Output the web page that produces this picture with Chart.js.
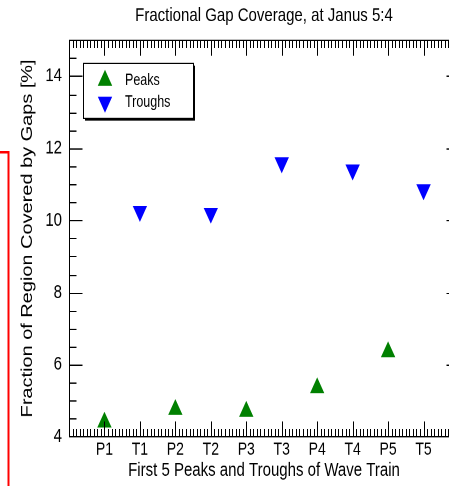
<!DOCTYPE html>
<html>
<head>
<meta charset="utf-8">
<script src="https://cdn.jsdelivr.net/npm/chart.js@4/dist/chart.umd.min.js"></script>
<style>
  html, body { margin: 0; background: #fff; }
  #wrap { width: 449px; height: 486px; overflow: hidden; position: relative; }
  /* the reference image is stretched vertically, so stretch the canvas the same way */
  #chart { position: absolute; left: 0; top: 0; transform: scaleY(1.279); transform-origin: 0 0; }
</style>
</head>
<body>
<div id="wrap"><canvas id="chart" width="480" height="380"></canvas></div>
<script>
const categories = ['P1', 'T1', 'P2', 'T2', 'P3', 'T3', 'P4', 'T4', 'P5', 'T5'];
const peakNames = ['P1', 'P2', 'P3', 'P4', 'P5'];
const peakValues = [4.4, 4.75, 4.7, 5.35, 6.35];
const troughNames = ['T1', 'T2', 'T3', 'T4', 'T5'];
const troughValues = [10.25, 10.2, 11.6, 11.4, 10.85];
const yTickLabels = [4, 6, 8, 10, 12, 14];

const FONT = "'Liberation Sans', Arial, Helvetica, sans-serif";
Chart.defaults.font.family = FONT;
Chart.defaults.color = '#000';

// place each name at its slot on the x axis (P1 = 1 ... T5 = 10)
const toPoints = (names, values) => names.map((n, i) => ({ x: categories.indexOf(n) + 1, y: values[i] }));

const line = (ctx, x1, y1, x2, y2) => {
    ctx.beginPath();
    ctx.moveTo(x1, y1);
    ctx.lineTo(x2, y2);
    ctx.stroke();
}

// box, inward ticks, legend box and the red mark at the left
const framePlugin = {
    id: 'frame',
    afterDraw(chart) {
        const ctx = chart.ctx;
        const { left, right, top, bottom } = chart.chartArea;
        const xs = chart.scales.x;
        const ys = chart.scales.y;
        ctx.save();
        ctx.strokeStyle = '#000';
        ctx.lineWidth = 1;
        const L = Math.round(left) + 0.5, R = Math.round(right) + 0.5;
        const T = Math.round(top) + 0.5, B = Math.round(bottom) + 0.5;
        ctx.strokeRect(L, T, R - L, B - T);

        for (let v = 4; v <= 15; v += 0.5) {
            const py = Math.round(ys.getPixelForValue(v)) + 0.5;
            const len = v % 2 === 0 ? 13 : 7;
            line(ctx, L, py, L + len, py);
            line(ctx, R, py, R - len, py);
        }
        for (let i = 0; i <= 110; i++) {
            const px = Math.round(xs.getPixelForValue(i / 10)) + 0.5;
            const len = i % 10 === 0 ? 12 : 6;
            line(ctx, px, T, px, T + len);
            line(ctx, px, B, px, B - len);
        }

        // legend
        const lx = left + 14, ly = top + 18, lw = 110, lh = 43;
        ctx.fillStyle = '#000';
        ctx.fillRect(lx + 2, ly + 2, lw, lh);
        ctx.fillStyle = '#fff';
        ctx.fillRect(lx, ly, lw, lh);
        ctx.strokeRect(Math.round(lx) + 0.5, Math.round(ly) + 0.5, lw, lh);
        const rows = [ly + 13.5, ly + 30.5];
        chart.data.datasets.forEach((ds, i) => {
            ctx.fillStyle = ds.backgroundColor;
            ctx.strokeStyle = ds.borderColor;
            Chart.helpers.drawPoint(ctx, {
                pointStyle: ds.pointStyle,
                rotation: ds.rotation,
                radius: ds.pointRadius,
                borderWidth: 1
            }, lx + 22, rows[i]);
            ctx.fillStyle = '#000';
            ctx.font = '12.5px ' + FONT;
            ctx.textBaseline = 'middle';
            ctx.textAlign = 'left';
            ctx.fillText(ds.label, lx + 42, rows[i]);
        });

        // red bracket on the far left
        ctx.strokeStyle = '#ff0000';
        ctx.lineWidth = 2;
        ctx.beginPath();
        ctx.moveTo(0, 119);
        ctx.lineTo(8.5, 119);
        ctx.lineTo(8.5, 380);
        ctx.stroke();
        ctx.restore();
    }
}

const config = {
    type: 'scatter',
    data: {
        datasets: [{
            label: 'Peaks',
            data: toPoints(peakNames, peakValues),
            pointStyle: 'triangle',
            rotation: 0,
            pointRadius: 7.3,
            backgroundColor: '#008000',
            borderColor: '#008000',
            borderWidth: 1
        }, {
            label: 'Troughs',
            data: toPoints(troughNames, troughValues),
            pointStyle: 'triangle',
            rotation: 180,
            pointRadius: 7.3,
            backgroundColor: '#0000ff',
            borderColor: '#0000ff',
            borderWidth: 1
        }]
    },
    options: {
        responsive: false,
        devicePixelRatio: 2,
        animation: false,
        layout: { padding: { right: 21 } },
        plugins: {
            legend: { display: false },
            tooltip: { enabled: false },
            title: {
                display: true,
                text: 'Fractional Gap Coverage, at Janus 5:4',
                fullSize: false,
                color: '#000',
                font: { size: 15, weight: 'normal' },
                padding: { top: 3.5, bottom: 9.8 }
            }
        },
        scales: {
            x: {
                type: 'linear',
                min: 0,
                max: 11,
                grid: { display: false, drawTicks: false },
                border: { display: false },
                ticks: {
                    stepSize: 1,
                    autoSkip: false,
                    maxRotation: 0,
                    padding: 2,
                    font: { size: 14 },
                    callback: (v) => categories[v - 1] || ''
                },
                title: {
                    display: true,
                    text: 'First 5 Peaks and Troughs of Wave Train',
                    font: { size: 15 },
                    padding: 3
                },
                afterFit: (s) => { s.height = 38.6; }
            },
            y: {
                type: 'linear',
                min: 4,
                max: 15,
                grid: { display: false, drawTicks: false },
                border: { display: false },
                ticks: {
                    stepSize: 2,
                    includeBounds: false,
                    padding: 7,
                    font: { size: 15 },
                    callback: (v) => yTickLabels.includes(v) ? v : ''
                },
                title: {
                    display: true,
                    text: 'Fraction of Region Covered by Gaps [%]',
                    font: { size: 15.6 },
                    padding: 18.2
                },
                afterFit: (s) => { s.width = 69; }
            }
        }
    },
    plugins: [framePlugin]
}

new Chart(document.querySelector('#chart'), config);
</script>
</body>
</html>
